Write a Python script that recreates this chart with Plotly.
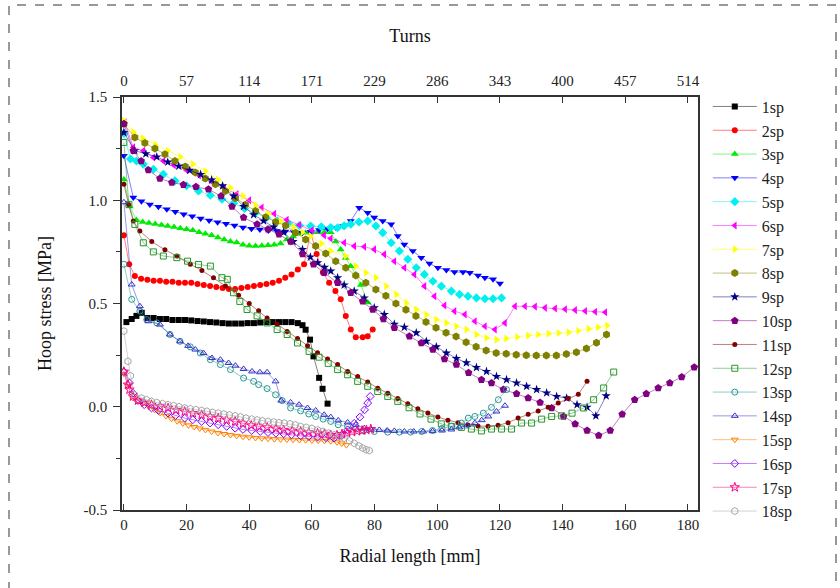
import plotly.graph_objects as go

# ---------------- data (radial length [mm], hoop stress [MPa]) ----------------
x1 = [0.8, 2.5, 4.0, 5.7, 7.5, 9.5, 11.5, 13.5, 15.5, 17.5, 19.5, 21.5, 23.5, 25.5, 27.5, 29.5, 31.5, 33.5, 35.5, 37.5, 39.5, 41.5, 43.5, 45.5, 47.5, 49.5, 51.5, 53.5, 55.5, 57.0, 58.0, 59.4, 60.5, 62.3, 63.4, 65.0]
y1 = [0.41, 0.425, 0.44, 0.455, 0.43, 0.43, 0.425, 0.425, 0.42, 0.42, 0.42, 0.418, 0.415, 0.413, 0.41, 0.408, 0.405, 0.403, 0.403, 0.403, 0.405, 0.405, 0.408, 0.41, 0.41, 0.41, 0.41, 0.41, 0.405, 0.395, 0.373, 0.325, 0.244, 0.14, 0.087, 0.015]

x2 = [0.0, 1.7, 3.5, 5.5, 7.5, 9.5, 11.5, 13.5, 15.5, 17.5, 19.5, 21.5, 23.5, 25.5, 27.5, 29.5, 31.5, 33.5, 35.5, 37.5, 39.5, 41.5, 43.5, 45.5, 47.5, 49.5, 51.5, 53.5, 55.5, 57.5, 59.6, 61.5, 63.5, 65.5, 67.5, 69.2, 70.8, 72.4, 74.0, 76.2, 77.8, 79.4]
y2 = [0.83, 0.69, 0.633, 0.62, 0.615, 0.61, 0.61, 0.605, 0.605, 0.60, 0.60, 0.60, 0.595, 0.59, 0.585, 0.58, 0.575, 0.57, 0.57, 0.575, 0.58, 0.585, 0.59, 0.595, 0.60, 0.61, 0.625, 0.64, 0.665, 0.69, 0.845, 0.74, 0.65, 0.60, 0.56, 0.52, 0.44, 0.374, 0.336, 0.336, 0.341, 0.374]

x3 = [0.0, 1.9, 4.0, 6.0, 8.0, 10.0, 12.0, 14.0, 16.0, 18.0, 20.0, 22.0, 24.0, 26.0, 28.0, 30.0, 32.0, 34.0, 36.0, 38.0, 40.0, 42.0, 44.0, 46.0, 48.0, 50.0, 52.0, 54.0, 56.0, 58.0, 60.0, 62.0, 64.0, 66.0, 67.6, 69.2, 70.8, 72.4, 74.0, 75.6, 77.8]
y3 = [1.10, 0.97, 0.904, 0.895, 0.89, 0.885, 0.88, 0.875, 0.87, 0.865, 0.86, 0.855, 0.845, 0.838, 0.83, 0.82, 0.81, 0.80, 0.795, 0.785, 0.78, 0.778, 0.78, 0.782, 0.785, 0.79, 0.81, 0.825, 0.838, 0.843, 0.845, 0.845, 0.845, 0.845, 0.80, 0.762, 0.72, 0.68, 0.64, 0.59, 0.505]

x4 = [0.0, 3.0, 5.6, 8.3, 11.0, 13.7, 16.4, 19.1, 21.8, 24.5, 27.2, 29.9, 32.6, 35.3, 38.0, 40.7, 43.4, 46.1, 48.8, 51.5, 54.2, 56.9, 59.6, 62.3, 65.0, 67.7, 70.0, 72.4, 75.1, 77.8, 79.9, 82.6, 85.3, 87.4, 89.5, 92.2, 94.9, 97.5, 100.2, 102.9, 105.5, 108.2, 110.4, 113.0, 115.2, 117.8, 120.0]
y4 = [1.215, 1.013, 0.995, 0.98, 0.968, 0.956, 0.944, 0.932, 0.922, 0.912, 0.902, 0.894, 0.886, 0.878, 0.868, 0.862, 0.858, 0.854, 0.851, 0.849, 0.846, 0.843, 0.848, 0.856, 0.862, 0.867, 0.875, 0.90, 0.964, 0.94, 0.916, 0.90, 0.884, 0.827, 0.786, 0.754, 0.722, 0.694, 0.673, 0.662, 0.652, 0.652, 0.649, 0.636, 0.625, 0.617, 0.597]

x5 = [0.0, 2.1, 4.0, 6.2, 9.4, 12.6, 16.3, 20.0, 23.8, 27.6, 31.3, 35.0, 38.5, 42.0, 45.5, 49.0, 52.5, 56.0, 59.6, 63.0, 66.0, 68.2, 70.3, 72.4, 75.0, 77.8, 80.4, 82.6, 85.3, 87.9, 90.6, 93.3, 95.9, 98.6, 101.3, 104.5, 107.1, 109.8, 112.5, 115.2, 117.8, 120.5]
y5 = [1.324, 1.20, 1.19, 1.175, 1.15, 1.126, 1.094, 1.07, 1.045, 1.024, 1.005, 0.985, 0.96, 0.94, 0.915, 0.90, 0.888, 0.878, 0.875, 0.872, 0.868, 0.867, 0.876, 0.884, 0.895, 0.90, 0.875, 0.843, 0.794, 0.754, 0.714, 0.673, 0.641, 0.608, 0.584, 0.56, 0.544, 0.535, 0.527, 0.523, 0.523, 0.527]

x6 = [0.3, 3.0, 6.2, 9.4, 12.6, 16.0, 20.0, 24.0, 28.0, 32.0, 36.0, 40.0, 44.0, 48.0, 52.0, 56.0, 60.0, 63.9, 66.0, 70.3, 73.5, 76.7, 79.9, 83.1, 86.3, 89.5, 92.7, 95.9, 99.1, 102.3, 105.5, 108.8, 112.0, 115.2, 118.4, 121.6, 124.8, 128.0, 131.2, 134.4, 137.6, 140.8, 144.0, 147.2, 150.4, 153.6]
y6 = [1.377, 1.256, 1.24, 1.207, 1.19, 1.17, 1.145, 1.12, 1.09, 1.06, 1.03, 1.0, 0.965, 0.935, 0.905, 0.88, 0.855, 0.83, 0.815, 0.794, 0.778, 0.775, 0.762, 0.738, 0.705, 0.673, 0.641, 0.584, 0.535, 0.49, 0.463, 0.447, 0.414, 0.39, 0.374, 0.406, 0.487, 0.487, 0.485, 0.479, 0.476, 0.472, 0.468, 0.464, 0.46, 0.458]

x7 = [0.0, 3.0, 6.0, 10.0, 14.0, 18.0, 22.0, 26.0, 30.0, 34.0, 38.0, 42.0, 46.0, 50.0, 54.0, 57.0, 59.6, 63.0, 66.0, 70.8, 74.0, 77.2, 80.4, 83.7, 86.9, 90.1, 93.3, 96.5, 99.7, 102.9, 106.1, 109.3, 112.5, 115.7, 118.9, 122.0, 125.5, 129.0, 132.2, 135.5, 138.7, 141.9, 145.0, 148.3, 151.3, 154.2]
y7 = [1.385, 1.33, 1.30, 1.27, 1.24, 1.21, 1.175, 1.14, 1.10, 1.06, 1.02, 0.975, 0.935, 0.90, 0.87, 0.845, 0.827, 0.79, 0.754, 0.73, 0.681, 0.649, 0.625, 0.584, 0.544, 0.503, 0.471, 0.447, 0.422, 0.406, 0.39, 0.374, 0.35, 0.333, 0.325, 0.33, 0.338, 0.345, 0.35, 0.354, 0.357, 0.36, 0.368, 0.377, 0.385, 0.393]

x8 = [0.0, 3.5, 6.7, 9.9, 13.1, 16.3, 19.6, 22.8, 26.0, 29.2, 32.4, 35.6, 38.8, 42.0, 45.2, 48.4, 51.6, 54.8, 58.0, 61.2, 64.4, 67.6, 70.8, 74.0, 77.2, 80.4, 83.6, 86.8, 90.0, 93.2, 96.4, 99.6, 102.8, 106.0, 109.2, 112.4, 115.6, 118.8, 122.0, 125.2, 128.4, 131.6, 134.8, 138.0, 141.2, 144.4, 147.6, 150.8, 154.0]
y8 = [1.369, 1.304, 1.277, 1.251, 1.223, 1.19, 1.163, 1.134, 1.105, 1.078, 1.045, 1.01, 0.978, 0.948, 0.918, 0.895, 0.878, 0.843, 0.81, 0.778, 0.742, 0.705, 0.673, 0.636, 0.60, 0.568, 0.537, 0.50, 0.47, 0.44, 0.41, 0.383, 0.358, 0.34, 0.312, 0.29, 0.273, 0.26, 0.257, 0.252, 0.25, 0.248, 0.248, 0.248, 0.255, 0.264, 0.282, 0.31, 0.35]

x9 = [0.0, 3.5, 7.0, 10.5, 14.0, 17.5, 21.0, 24.5, 28.0, 31.5, 35.0, 38.2, 41.4, 44.6, 47.8, 51.0, 54.0, 57.0, 59.5, 61.8, 64.0, 66.0, 68.2, 70.3, 73.5, 76.7, 79.9, 83.1, 86.3, 89.5, 93.3, 96.5, 99.7, 102.9, 106.1, 109.3, 112.5, 115.7, 118.9, 122.1, 125.3, 128.5, 131.7, 134.9, 138.1, 141.3, 144.6, 147.8, 150.6, 153.9]
y9 = [1.328, 1.24, 1.225, 1.21, 1.185, 1.165, 1.145, 1.125, 1.098, 1.07, 1.02, 0.97, 0.93, 0.90, 0.87, 0.845, 0.80, 0.762, 0.725, 0.697, 0.675, 0.657, 0.625, 0.59, 0.56, 0.527, 0.479, 0.447, 0.40, 0.385, 0.358, 0.317, 0.29, 0.26, 0.234, 0.213, 0.19, 0.171, 0.147, 0.131, 0.115, 0.099, 0.083, 0.067, 0.05, 0.042, 0.01, -0.002, -0.044, 0.053]

x10 = [0.0, 3.0, 5.5, 7.8, 11.5, 15.3, 19.0, 23.0, 27.0, 31.0, 34.5, 38.2, 42.5, 46.0, 49.5, 53.2, 57.0, 60.5, 63.9, 68.2, 72.4, 76.2, 79.4, 82.8, 86.3, 91.1, 94.9, 98.6, 102.3, 106.1, 110.0, 114.1, 117.3, 121.1, 125.3, 129.0, 132.8, 136.5, 140.3, 144.0, 147.8, 151.5, 155.2, 159.0, 163.0, 166.7, 170.5, 174.2, 178.0, 182.0]
y10 = [1.37, 1.24, 1.19, 1.147, 1.105, 1.086, 1.075, 1.065, 1.053, 1.02, 0.97, 0.916, 0.884, 0.86, 0.835, 0.80, 0.74, 0.69, 0.649, 0.60, 0.552, 0.511, 0.471, 0.425, 0.382, 0.341, 0.309, 0.277, 0.231, 0.204, 0.165, 0.131, 0.115, 0.083, 0.063, 0.042, 0.021, -0.006, -0.047, -0.083, -0.115, -0.139, -0.115, -0.036, 0.034, 0.063, 0.091, 0.115, 0.144, 0.191]

x11 = [0.0, 1.5, 3.0, 5.1, 8.9, 13.1, 16.9, 21.2, 24.9, 28.6, 32.4, 36.6, 40.0, 43.0, 45.7, 48.9, 52.1, 55.4, 58.6, 61.8, 65.0, 68.2, 71.4, 74.6, 77.8, 81.0, 84.2, 87.4, 90.6, 93.8, 97.0, 100.2, 103.4, 106.6, 109.8, 113.0, 116.2, 119.4, 122.6, 125.8, 129.0, 132.2, 135.4, 138.6, 141.8, 145.0, 147.8]
y11 = [1.078, 0.98, 0.90, 0.851, 0.80, 0.76, 0.73, 0.69, 0.66, 0.625, 0.585, 0.54, 0.50, 0.465, 0.43, 0.40, 0.365, 0.33, 0.295, 0.262, 0.231, 0.204, 0.171, 0.147, 0.12, 0.09, 0.065, 0.04, 0.015, -0.01, -0.03, -0.05, -0.065, -0.077, -0.088, -0.093, -0.095, -0.09, -0.077, -0.055, -0.036, -0.02, -0.003, 0.018, 0.04, 0.06, 0.123]

x12 = [0.0, 1.6, 3.5, 6.2, 9.4, 12.6, 16.9, 20.3, 23.8, 27.6, 31.3, 33.0, 35.0, 37.0, 39.3, 42.5, 45.7, 48.9, 52.1, 55.4, 59.1, 62.3, 65.2, 68.2, 71.4, 74.6, 77.8, 81.0, 84.2, 87.4, 91.0, 94.5, 98.0, 101.3, 104.5, 107.7, 110.9, 114.1, 117.3, 120.5, 123.7, 126.9, 130.1, 133.3, 136.5, 139.7, 143.0, 146.7, 149.9, 153.1, 156.3]
y12 = [1.28, 0.98, 0.883, 0.794, 0.75, 0.73, 0.722, 0.705, 0.689, 0.681, 0.625, 0.617, 0.552, 0.51, 0.471, 0.44, 0.406, 0.374, 0.35, 0.309, 0.268, 0.24, 0.21, 0.18, 0.155, 0.123, 0.099, 0.074, 0.05, 0.026, -0.005, -0.035, -0.06, -0.083, -0.095, -0.10, -0.108, -0.117, -0.108, -0.108, -0.108, -0.079, -0.079, -0.06, -0.047, -0.044, -0.031, -0.006, 0.034, 0.091, 0.168]

x13 = [0.0, 2.5, 5.1, 7.3, 10.5, 14.7, 17.9, 21.2, 24.4, 27.6, 30.8, 34.0, 38.2, 41.4, 43.0, 45.7, 48.4, 50.5, 53.2, 56.4, 59.0, 61.2, 63.6, 66.0, 68.4, 71.4, 74.0, 76.5, 79.9, 84.2, 87.9, 91.5, 95.0, 98.5, 101.5, 104.5, 107.7, 109.9, 112.0, 114.7, 117.3, 119.5, 122.1]
y13 = [0.69, 0.52, 0.463, 0.422, 0.406, 0.35, 0.317, 0.29, 0.26, 0.228, 0.204, 0.18, 0.139, 0.123, 0.107, 0.088, 0.058, 0.03, -0.006, -0.02, -0.035, -0.047, -0.06, -0.071, -0.087, -0.095, -0.108, -0.117, -0.12, -0.123, -0.123, -0.123, -0.12, -0.115, -0.105, -0.095, -0.079, -0.055, -0.047, -0.031, -0.003, 0.034, 0.083]

x14 = [0.0, 2.5, 5.1, 7.8, 11.5, 14.7, 17.9, 20.5, 22.8, 25.4, 28.1, 30.8, 33.4, 35.6, 38.2, 40.9, 43.4, 45.7, 48.4, 50.2, 53.2, 55.9, 58.6, 61.2, 63.9, 66.0, 68.4, 71.4, 74.0, 76.7, 78.8, 81.5, 84.0, 86.3, 89.5, 92.5, 95.5, 98.5, 101.5, 104.5, 107.0, 109.5, 112.0, 114.2, 116.3, 118.9, 121.6]
y14 = [0.99, 0.592, 0.487, 0.414, 0.398, 0.35, 0.317, 0.295, 0.277, 0.26, 0.236, 0.228, 0.212, 0.199, 0.183, 0.171, 0.167, 0.167, 0.123, 0.03, 0.021, 0.01, -0.006, -0.018, -0.039, -0.05, -0.066, -0.076, -0.087, -0.104, -0.11, -0.112, -0.115, -0.117, -0.12, -0.12, -0.12, -0.118, -0.115, -0.11, -0.1, -0.09, -0.079, -0.065, -0.047, -0.023, 0.005]

x15 = [0.0, 1.3, 2.9, 4.5, 6.2, 8.0, 9.8, 11.6, 13.4, 15.2, 17.0, 18.8, 20.6, 22.4, 24.2, 26.0, 28.0, 30.0, 32.0, 34.0, 36.0, 38.0, 40.0, 42.0, 44.0, 46.0, 48.0, 50.0, 52.0, 54.0, 56.0, 58.0, 60.0, 62.0, 64.0, 66.0, 68.0, 69.5, 71.0]
y15 = [0.16, 0.10, 0.042, 0.03, 0.018, 0.0, -0.015, -0.03, -0.045, -0.058, -0.07, -0.08, -0.09, -0.098, -0.105, -0.112, -0.12, -0.127, -0.132, -0.137, -0.141, -0.145, -0.148, -0.151, -0.153, -0.155, -0.157, -0.158, -0.159, -0.16, -0.161, -0.162, -0.163, -0.164, -0.165, -0.167, -0.172, -0.178, -0.186]

x16 = [0.0, 1.8, 2.9, 4.5, 6.5, 8.8, 11.0, 14.1, 16.5, 19.4, 22.0, 24.8, 27.5, 30.1, 32.8, 35.5, 38.0, 40.8, 43.5, 46.0, 48.5, 51.0, 53.5, 56.4, 59.0, 61.8, 64.5, 67.1, 69.5, 71.4, 73.5, 75.3, 76.8, 77.8, 78.6]
y16 = [0.17, 0.115, 0.066, 0.03, 0.01, -0.006, -0.018, -0.031, -0.043, -0.055, -0.063, -0.071, -0.079, -0.087, -0.095, -0.104, -0.11, -0.115, -0.12, -0.125, -0.128, -0.131, -0.136, -0.141, -0.144, -0.147, -0.15, -0.152, -0.14, -0.112, -0.08, -0.05, -0.015, 0.018, 0.05]

x17 = [0.0, 1.3, 1.8, 2.9, 4.5, 6.5, 8.8, 11.5, 14.1, 16.7, 19.4, 22.0, 24.8, 27.5, 30.1, 32.8, 35.5, 38.0, 40.6, 43.0, 45.7, 48.5, 51.0, 53.7, 56.4, 59.0, 61.8, 64.0, 66.0, 68.0, 69.6, 71.2, 72.8, 74.4, 76.0, 77.4, 78.8]
y17 = [0.17, 0.107, 0.083, 0.05, 0.03, 0.02, 0.01, 0.002, -0.006, -0.015, -0.023, -0.031, -0.039, -0.047, -0.055, -0.063, -0.071, -0.08, -0.09, -0.095, -0.10, -0.106, -0.112, -0.116, -0.12, -0.124, -0.128, -0.131, -0.136, -0.138, -0.132, -0.127, -0.122, -0.118, -0.115, -0.112, -0.108]

x18 = [0.0, 1.3, 2.1, 3.4, 5.6, 7.2, 8.8, 10.5, 12.3, 14.1, 15.9, 17.6, 19.4, 21.2, 23.0, 24.8, 26.5, 28.3, 30.1, 31.9, 33.7, 35.5, 37.2, 39.0, 40.8, 42.5, 44.2, 46.0, 47.8, 49.5, 51.2, 53.0, 54.7, 56.4, 58.2, 60.0, 61.8, 63.5, 65.3, 67.1, 68.7, 70.3, 72.0, 73.5, 75.0, 76.2, 77.3, 78.3]
y18 = [0.366, 0.22, 0.15, 0.058, 0.042, 0.034, 0.026, 0.02, 0.015, 0.01, 0.005, 0.0, -0.006, -0.01, -0.014, -0.018, -0.022, -0.027, -0.031, -0.035, -0.04, -0.044, -0.049, -0.055, -0.06, -0.064, -0.068, -0.071, -0.074, -0.077, -0.079, -0.083, -0.088, -0.096, -0.1, -0.105, -0.112, -0.12, -0.128, -0.136, -0.144, -0.152, -0.165, -0.177, -0.19, -0.2, -0.208, -0.212]

names = ["1sp", "2sp", "3sp", "4sp", "5sp", "6sp", "7sp", "8sp", "9sp", "10sp",
         "11sp", "12sp", "13sp", "14sp", "15sp", "16sp", "17sp", "18sp"]

bottom_ticks = [0, 20, 40, 60, 80, 100, 120, 140, 160, 180]
top_tick_labels = ["0", "57", "114", "171", "229", "286", "343", "400", "457", "514"]

# ---------------- styles ----------------
xs = [x1, x2, x3, x4, x5, x6, x7, x8, x9, x10, x11, x12, x13, x14, x15, x16, x17, x18]
ys = [y1, y2, y3, y4, y5, y6, y7, y8, y9, y10, y11, y12, y13, y14, y15, y16, y17, y18]

colors = [(0, 0, 0), (255, 0, 0), (0, 235, 0), (0, 0, 255), (0, 240, 240), (255, 0, 255),
          (255, 255, 0), (128, 128, 0), (0, 0, 128), (128, 0, 128), (128, 0, 0),
          (40, 150, 40), (40, 150, 150), (50, 50, 200), (255, 128, 0), (128, 0, 255),
          (255, 0, 128), (165, 165, 165)]
symbols = ["square", "circle", "triangle-up", "triangle-down", "diamond", "triangle-left",
           "triangle-right", "hexagon", "star", "pentagon", "circle",
           "square-open", "circle-open", "triangle-up-open", "triangle-down-open",
           "diamond-open", "star-open", "hexagon-open"]
sizes = [6, 6, 7, 7, 7, 7, 7, 8, 7, 8, 5, 6, 6, 6, 6, 6, 7, 7]

SERIF = "Liberation Serif, Times New Roman, serif"

fig = go.Figure()
for i in range(18):
    r, g, b = colors[i]
    fig.add_trace(go.Scatter(
        x=xs[i], y=ys[i], name=names[i], mode="lines+markers",
        line=dict(color=f"rgba({r},{g},{b},0.5)", width=1),
        marker=dict(symbol=symbols[i], size=sizes[i], color=f"rgb({r},{g},{b})",
                    line=dict(width=1 if "open" in symbols[i] else 0,
                              color=f"rgb({r},{g},{b})")),
    ))

# invisible trace to carry the top (Turns) axis
fig.add_trace(go.Scatter(x=[0, 180], y=[None, None], xaxis="x2", yaxis="y",
                         showlegend=False, hoverinfo="skip", mode="lines"))

XR = [-0.6, 183.2]
fig.update_layout(
    width=840, height=588,
    margin=dict(l=122, r=142, t=97, b=78, autoexpand=False),
    paper_bgcolor="white", plot_bgcolor="white",
    font=dict(family=SERIF, size=15, color="#222"),
    showlegend=True,
    legend=dict(x=1.017, y=1.018, xanchor="left", yanchor="top",
                font=dict(family=SERIF, size=16, color="#222"),
                bgcolor="rgba(0,0,0,0)", borderwidth=0, itemwidth=44,
                tracegroupgap=0, maxheight=560),
    xaxis=dict(range=XR, tickmode="array", tickvals=bottom_ticks, automargin=False,
               ticks="inside", ticklen=6, tickwidth=1.2, tickcolor="#333",
               showline=True, linecolor="#333", linewidth=1.5, mirror=False,
               showgrid=False, zeroline=False,
               tickfont=dict(family=SERIF, size=15, color="#222"),
               title=dict(text="Radial length [mm]", standoff=18,
                          font=dict(family=SERIF, size=18, color="#111"))),
    xaxis2=dict(range=XR, overlaying="x", side="top", anchor="y", automargin=False,
                tickmode="array", tickvals=bottom_ticks, ticktext=top_tick_labels,
                ticks="inside", ticklen=6, tickwidth=1.2, tickcolor="#333",
                showline=True, linecolor="#333", linewidth=1.5,
                showgrid=False, zeroline=False, ticklabelstandoff=3,
                tickfont=dict(family=SERIF, size=15, color="#222"),
                title=dict(text="Turns", standoff=26,
                           font=dict(family=SERIF, size=18, color="#111"))),
    yaxis=dict(range=[-0.5, 1.5], tickmode="array", tickvals=[-0.5, 0.0, 0.5, 1.0, 1.5],
               ticktext=["-0.5", "0.0", "0.5", "1.0", "1.5"], automargin=False,
               ticks="outside", ticklen=7, tickwidth=1.2, tickcolor="#333",
               minor=dict(tickvals=[-0.25, 0.25, 0.75, 1.25], ticks="outside",
                          ticklen=4, tickcolor="#333"),
               showline=True, linecolor="#333", linewidth=1.5, mirror=True,
               showgrid=False, zeroline=False, ticklabelstandoff=3,
               tickfont=dict(family=SERIF, size=15, color="#222"),
               title=dict(text="Hoop stress [MPa]", standoff=27,
                          font=dict(family=SERIF, size=18, color="#111"))),
    shapes=[dict(type="rect", xref="paper", yref="paper",
                 x0=(9 - 122) / 576, x1=(836 - 122) / 576,
                 y0=(510 - 600) / 413, y1=(510 - 5) / 413,
                 line=dict(color="#333", width=1, dash="dash"),
                 fillcolor="rgba(0,0,0,0)", layer="below")],
)

fig.write_html("out.html", config={"displayModeBar": False},
               post_script="document.body.style.margin='0px';")
